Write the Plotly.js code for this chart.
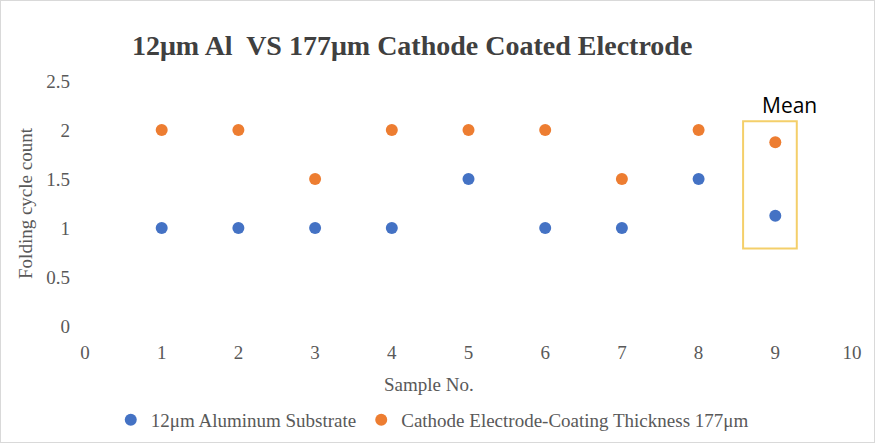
<!DOCTYPE html>
<html>
<head>
<meta charset="utf-8">
<script src="https://cdn.plot.ly/plotly-3.0.1.min.js"></script>
<style>
  body { margin: 0; background: #fff; }
  #chart { width: 873px; height: 441px; border: 1px solid #d9d9d9; }
</style>
</head>
<body>
<div id="chart"></div>
<script>
// sample numbers, 9 = mean of samples 1-8
const samples = [1, 2, 3, 4, 5, 6, 7, 8, 9];
const aluminum = [1, 1, 1, 1, 1.5, 1, 1, 1.5, 1.125];
const cathode = [2, 2, 1.5, 2, 2, 2, 1.5, 2, 1.875];

const serif = '"Liberation Serif", "Times New Roman", serif';
const grey = '#595959';

var alTrace = {
  x: samples,
  y: aluminum,
  type: 'scatter',
  mode: 'markers',
  name: '12μm Aluminum Substrate',
  marker: { color: '#4472C4', size: 12 }
};

var cathodeTrace = {
  x: samples,
  y: cathode,
  type: 'scatter',
  mode: 'markers',
  name: 'Cathode Electrode-Coating Thickness 177μm',
  marker: { color: '#ED7D31', size: 12 }
};

var layout = {
  width: 873,
  height: 441,
  margin: { l: 84, r: 22, t: 80, b: 116, autoexpand: false },
  paper_bgcolor: '#fff',
  plot_bgcolor: '#fff',
  font: { family: serif, color: grey, size: 19 },
  title: {
    text: '<b>12μm Al  VS 177μm Cathode Coated Electrode</b>',
    font: { family: serif, size: 28, color: '#404040' },
    x: 0.471, xanchor: 'center',
    y: 0.9, yanchor: 'middle'
  },
  xaxis: {
    range: [0, 10],
    dtick: 1,
    showgrid: false,
    zeroline: false,
    showline: false,
    ticks: '',
    ticklabelstandoff: 13,
    tickfont: { family: serif, size: 19, color: grey }
  },
  yaxis: {
    range: [0, 2.5],
    dtick: 0.5,
    showgrid: false,
    zeroline: false,
    showline: false,
    ticks: '',
    ticklabelstandoff: 14,
    tickfont: { family: serif, size: 19, color: grey },
    title: { text: 'Folding cycle count', font: { family: serif, size: 19, color: grey }, standoff: 8 }
  },
  legend: {
    orientation: 'h',
    xref: 'container', yref: 'container',
    x: 0.494, xanchor: 'center',
    y: 0.05, yanchor: 'middle',
    font: { family: serif, size: 19, color: grey },
    itemwidth: 30
  },
  shapes: [{
    type: 'rect', xref: 'x', yref: 'y',
    x0: 8.58, x1: 9.28, y0: 0.79, y1: 2.09,
    line: { color: '#F4CF6A', width: 2 }
  }],
  annotations: [
    {
      text: 'Sample No.', xref: 'paper', yref: 'paper',
      x: 0.449, y: -0.24, xanchor: 'center', yanchor: 'middle',
      showarrow: false, font: { family: serif, size: 19, color: grey }
    },
    {
      text: 'Mean', xref: 'x', yref: 'y',
      x: 9.18, y: 2.26, xanchor: 'center', yanchor: 'middle',
      showarrow: false, font: { family: '"Open Sans", "Noto Sans", sans-serif', size: 21, color: '#000' }
    }
  ]
};

Plotly.newPlot('chart', [alTrace, cathodeTrace], layout, { displayModeBar: false });
</script>
</body>
</html>
